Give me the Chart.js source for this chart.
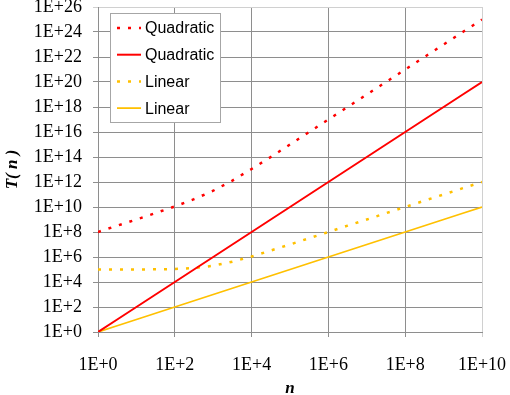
<!DOCTYPE html>
<html>
<head>
<meta charset="utf-8">
<script src="https://cdn.jsdelivr.net/npm/chart.js@4.4.1/dist/chart.umd.min.js"></script>
<style>
  html, body { margin: 0; padding: 0; background: #fff; }
</style>
</head>
<body>
<canvas id="chart" width="510" height="395"></canvas>
<script>
// problem sizes n (half-decade steps)
const nValues = [1, 3.16, 10, 31.6, 100, 316, 1e3, 3.16e3, 1e4, 3.16e4, 1e5,
  3.16e5, 1e6, 3.16e6, 1e7, 3.16e7, 1e8, 3.16e8, 1e9, 3.16e9, 1e10];

const quadDotted = [1.0e8, 3.2e8, 1.0e9, 3.3e9, 1.1e10, 4.2e10, 2.0e11, 1.3e12, 1.1e13, 1.0e14, 1.0e15,
  1.0e16, 1.0e17, 1.0e18, 1.0e19, 1.0e20, 1.0e21, 1.0e22, 1.0e23, 1.0e24, 1.0e25];
const quadSolid = [1, 1e1, 1e2, 1e3, 1e4, 1e5, 1e6, 1e7, 1e8, 1e9, 1e10,
  1e11, 1e12, 1e13, 1e14, 1e15, 1e16, 1e17, 1e18, 1e19, 1e20];
const linDotted = [1.0e5, 1.0e5, 1.0e5, 1.03e5, 1.1e5, 1.3e5, 2.0e5, 4.2e5, 1.1e6, 3.3e6, 1.0e7,
  3.2e7, 1.0e8, 3.2e8, 1.0e9, 3.2e9, 1.0e10, 3.2e10, 1.0e11, 3.2e11, 1.0e12];
const linSolid = [1, 3.16, 10, 31.6, 100, 316, 1e3, 3.16e3, 1e4, 3.16e4, 1e5,
  3.16e5, 1e6, 3.16e6, 1e7, 3.16e7, 1e8, 3.16e8, 1e9, 3.16e9, 1e10];

const xTickValues = [1, 1e2, 1e4, 1e6, 1e8, 1e10];
const xTickLabels = ['1E+0', '1E+2', '1E+4', '1E+6', '1E+8', '1E+10'];
const yTickValues = [1, 1e2, 1e4, 1e6, 1e8, 1e10, 1e12, 1e14, 1e16, 1e18, 1e20, 1e22, 1e24, 1e26];
const yTickLabels = ['1E+0', '1E+2', '1E+4', '1E+6', '1E+8', '1E+10', '1E+12', '1E+14',
  '1E+16', '1E+18', '1E+20', '1E+22', '1E+24', '1E+26'];

const RED = '#ff0000';
const GOLD = '#ffc000';
const GRID = '#8e8e8e';
const EDGE = '#d0d0d0';

function points(ys) {
  return nValues.map((n, i) => ({ x: n, y: ys[i] }));
}

// legend box drawn inside the plot, top left
const boxLegend = {
  id: 'boxLegend',
  afterDraw(chart) {
    const ctx = chart.ctx;
    ctx.save();
    ctx.fillStyle = '#fff';
    ctx.strokeStyle = '#a6a6a6';
    ctx.lineWidth = 1;
    ctx.fillRect(110.5, 13.5, 110, 109);
    ctx.strokeRect(110.5, 13.5, 110, 109);
    chart.data.datasets.forEach((ds, i) => {
      const y = 28 + i * 26.7;
      ctx.strokeStyle = ds.borderColor;
      ctx.lineWidth = ds.borderWidth;
      ctx.setLineDash(ds.borderDash || []);
      ctx.beginPath();
      ctx.moveTo(117, y);
      ctx.lineTo(141, y);
      ctx.stroke();
      ctx.setLineDash([]);
      ctx.fillStyle = '#000';
      ctx.font = '16px "Liberation Sans"';
      ctx.textBaseline = 'middle';
      ctx.fillText(ds.label, 145, y + 1);
    });
    ctx.restore();
  }
};

new Chart(document.getElementById('chart'), {
  type: 'line',
  data: {
    datasets: [
      { label: 'Quadratic', data: points(quadDotted), borderColor: RED, borderWidth: 2.5, borderDash: [3, 8] },
      { label: 'Quadratic', data: points(quadSolid), borderColor: RED, borderWidth: 2 },
      { label: 'Linear', data: points(linDotted), borderColor: GOLD, borderWidth: 2.5, borderDash: [3, 8] },
      { label: 'Linear', data: points(linSolid), borderColor: GOLD, borderWidth: 1.75 }
    ]
  },
  options: {
    responsive: false,
    animation: false,
    elements: { point: { radius: 0 }, line: { tension: 0 } },
    layout: { padding: { top: 7, right: 28, left: 0, bottom: 0 } },
    plugins: { legend: { display: false }, tooltip: { enabled: false } },
    scales: {
      x: {
        type: 'logarithmic',
        min: 1,
        max: 1e10,
        afterBuildTicks: s => { s.ticks = xTickValues.map(v => ({ value: v })); },
        afterFit: s => { s.height = 63; s.paddingLeft = 0; s.paddingRight = 0; },
        ticks: {
          autoSkip: false, maxRotation: 0, padding: 17, color: '#000',
          font: { family: '"Liberation Serif"', size: 18 },
          callback: (v, i) => xTickLabels[i]
        },
        grid: { color: c => c.tick && c.tick.value === 1e10 ? EDGE : GRID, tickLength: 5, lineWidth: 1 },
        border: { color: GRID },
        title: {
          display: true, text: 'n', color: '#000', padding: { top: 0, bottom: -4 },
          font: { family: '"Liberation Serif"', size: 17, weight: 'bold', style: 'italic' }
        }
      },
      y: {
        type: 'logarithmic',
        min: 1,
        max: 1e26,
        afterBuildTicks: s => { s.ticks = yTickValues.map(v => ({ value: v })); },
        afterFit: s => { s.width = 98; s.paddingTop = 0; s.paddingBottom = 0; },
        ticks: {
          autoSkip: false, padding: 11, color: '#000',
          font: { family: '"Liberation Serif"', size: 18 },
          callback: (v, i) => yTickLabels[i]
        },
        grid: { color: c => c.tick && c.tick.value === 1e26 ? EDGE : GRID, tickLength: 5, lineWidth: 1 },
        border: { color: GRID },
        title: {
          display: true, text: 'T( n )', color: '#000', padding: { top: 2, bottom: 0 },
          font: { family: '"Liberation Serif"', size: 17, weight: 'bold', style: 'italic' }
        }
      }
    }
  },
  plugins: [boxLegend]
});
</script>
</body>
</html>
